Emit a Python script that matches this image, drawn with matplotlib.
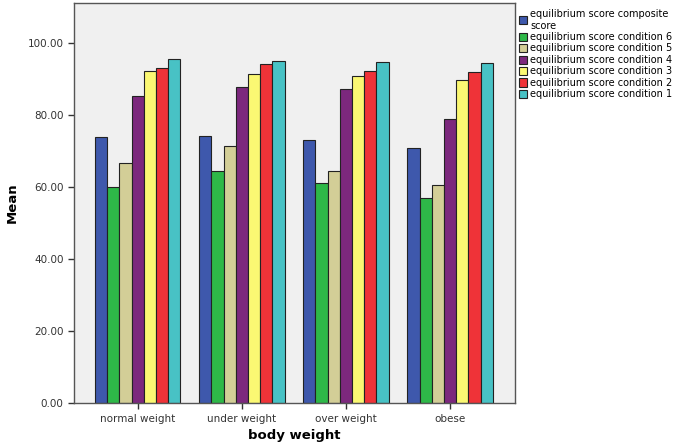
import numpy as np
from matplotlib import pyplot as plt
from matplotlib.ticker import FormatStrFormatter

# categories on the x axis
categories = ['normal weight', 'under weight', 'over weight', 'obese']

# series names (legend order)
series_names = [
    'equilibrium score composite\nscore',
    'equilibrium score condition 6',
    'equilibrium score condition 5',
    'equilibrium score condition 4',
    'equilibrium score condition 3',
    'equilibrium score condition 2',
    'equilibrium score condition 1',
]

# mean values per series, one value per category
composite = [73.9, 74.2, 72.9, 70.8]
cond6 = [59.9, 64.4, 61.1, 56.8]
cond5 = [66.6, 71.3, 64.3, 60.6]
cond4 = [85.1, 87.6, 87.1, 78.9]
cond3 = [92.2, 91.3, 90.9, 89.8]
cond2 = [92.9, 94.0, 92.1, 91.9]
cond1 = [95.5, 95.0, 94.6, 94.5]

colors = ['#3E58AC', '#2EB848', '#D3CE97', '#7C287D', '#FBF873', '#EF3338', '#48C2C5']


def main():
    series = [composite, cond6, cond5, cond4, cond3, cond2, cond1]

    fig = plt.figure(figsize=(6.85, 4.47), dpi=100)
    ax = fig.add_axes([0.108, 0.098, 0.644, 0.895])
    ax.set_facecolor('#F0F0F0')

    x = np.arange(len(categories))
    n = len(series)
    width = 0.82 / n
    for i, (vals, name, col) in enumerate(zip(series, series_names, colors)):
        offset = (i - (n - 1) / 2) * width
        ax.bar(x + offset, vals, width, color=col, edgecolor='#222222',
               linewidth=0.8, label=name)

    ax.set_xlim(-0.613, 3.625)
    ax.set_ylim(0, 111)
    ax.set_yticks([0, 20, 40, 60, 80, 100])
    ax.yaxis.set_major_formatter(FormatStrFormatter('%.2f'))
    ax.set_xticks(x)
    ax.set_xticklabels(categories)
    ax.tick_params(axis='both', labelsize=7.5, colors='#333333', direction='out',
                   length=4, width=1)
    for s in ax.spines.values():
        s.set_color('#555555')
        s.set_linewidth(1)

    ax.set_xlabel('body weight', fontsize=9.5, fontweight='bold', labelpad=4)
    ax.set_ylabel('Mean', fontsize=9.5, fontweight='bold', labelpad=6)

    ax.legend(loc='upper left', bbox_to_anchor=(0.995, 1.0), frameon=False,
              fontsize=7, handlelength=0.9, handleheight=0.9,
              handletextpad=0.3, labelspacing=0.15, borderaxespad=0.2)

    plt.savefig('out.png', dpi=100)
    plt.close()


if __name__ == "__main__":
    main()
